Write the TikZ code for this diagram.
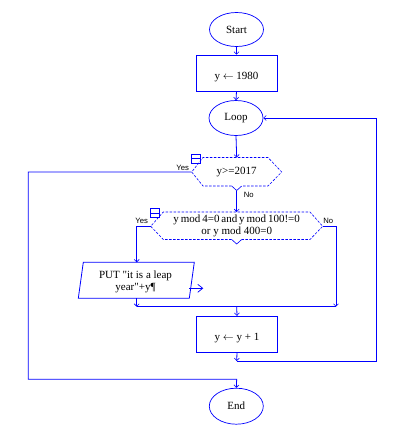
\documentclass[tikz,border=0pt]{standalone}
\usepackage{fontspec}
\setmainfont{Liberation Serif}
\newfontfamily\lblfont{Liberation Sans}
\newfontfamily\plainserif{Liberation Serif}
\usetikzlibrary{arrows.meta,shapes.geometric}
\definecolor{fcblue}{RGB}{0,0,255}
\tikzset{
  line/.style={draw=fcblue, line width=0.8pt},
  conn/.style={draw=fcblue, line width=0.8pt, -{Straight Barb[length=2.5pt,width=5pt,line width=0.6pt]}},
  term/.style={ellipse, draw=fcblue, line width=0.7pt, minimum width=54pt, minimum height=34pt, inner sep=0pt, font=\fontsize{11}{13}\selectfont},
  procbox/.style={rectangle, draw=fcblue, line width=0.8pt, minimum width=81pt, minimum height=36pt, inner sep=0pt},
  txt/.style={font=\fontsize{11}{12}\selectfont, inner sep=0pt, align=center},
  lbl/.style={font=\lblfont\fontsize{7.7}{9}\selectfont, inner sep=0pt},
  dec/.style={draw=fcblue, line width=0.6pt, dash pattern=on 2.5pt off 1.5pt},
  notch/.style={draw=fcblue, line width=0.6pt},
  icon/.style={rectangle, draw=fcblue, line width=0.7pt, minimum width=9pt, minimum height=9pt, inner sep=0pt},
  outarrow/.style={draw=fcblue, line width=0.7pt, -{Straight Barb[length=5pt,width=8pt,line width=0.7pt]}}
}
\begin{document}
\begin{tikzpicture}[x=1pt,y=-1pt]
\useasboundingbox[fill=white] (0,0) rectangle (411,429);

% terminals and boxes
\node[term] (start) at (236.5,29.5) {Start};
\node[procbox] (init) at (236.5,73) {};
\node[txt] (initt) at (236.5,77) {y $\leftarrow$ 1980};
\node[term, minimum height=35pt] (loop) at (236,118) {Loop};

% decision 1
\node[txt] (d1) at (236.7,172) {y>=2017};
\coordinate (d1w) at (191.7,172);
\coordinate (d1e) at (281.7,172);
\coordinate (d1n) at (236.7,157.5);
\coordinate (d1s) at (236.7,190.5);
\draw[dec] (231.7,186) -- (203,186) -- (d1w) -- (203,157.5) -- (268,157.5) -- (d1e) -- (268,186) -- (241.7,186);
\draw[notch] (231.7,186) -- (d1s) -- (241.7,186);
\node[icon] (ic1) at (196,158.8) {};
\draw[line, line width=0.7pt] (ic1.west) -- (ic1.east);

% decision 2
\node[txt, font=\fontsize{11}{11.7}\selectfont] (d2) at (236.7,226) {\spaceskip=1.9pt plus 0.5pt minus 0.3pt y mod 4=0 and y mod 100!=0\\or y mod 400=0};
\coordinate (d2w) at (150.7,226.3);
\coordinate (d2e) at (322.7,226.3);
\coordinate (d2n) at (236.7,212);
\coordinate (d2s) at (236.7,244);
\draw[dec] (231.7,239.5) -- (163.3,239.5) -- (d2w) -- (163.3,212) -- (310,212) -- (d2e) -- (310,239.5) -- (241.7,239.5);
\draw[notch] (231.7,239.5) -- (d2s) -- (241.7,239.5);
\node[icon] (ic2) at (155,213.3) {};
\draw[line, line width=0.7pt] (ic2.west) -- (ic2.east);

% output parallelogram
\coordinate (p1) at (83.3,262.3);
\coordinate (p2) at (194.3,262.3);
\coordinate (p3) at (189.3,298.3);
\coordinate (p4) at (78.3,298.3);
\coordinate (pn) at (136.7,262.3);
\coordinate (ps) at (136.7,298.3);
\draw[line] (p1) -- (p2) -- (p3) -- (p4) -- cycle;
\node[txt, font=\plainserif\fontsize{11}{12}\selectfont] (put) at (135.5,281.7) {PUT "it is a leap\\year"+y¶};
\coordinate (oa1) at (189.3,288.3);
\coordinate (oa2) at (203.3,288.3);
\draw[outarrow] (oa1) -- (oa2);

% increment and end
\node[procbox] (inc) at (237,334.2) {};
\node[txt] (inct) at (237,338) {y $\leftarrow$ y + 1};
\node[term, minimum height=36pt] (end) at (236.3,406.2) {End};

% junction coordinates
\coordinate (jl) at (136.7,306.7);
\coordinate (jr) at (336,306.7);
\coordinate (jm) at (236.7,306.7);
\coordinate (lb) at (236.7,361);
\coordinate (lr) at (376.7,361);
\coordinate (eb) at (236.7,379.3);

% connectors
\draw[conn] (start.south) -- (init.north);
\draw[conn] (init.south) -- (loop.north);
\draw[conn] (loop.south) -- (d1n);
\draw[conn] (d1w) -- (28.3,172) -- (28.3,379.3) -- (eb) -- (end.north);
\draw[conn] (d1s) -- (d2n);
\draw[conn] (d2w) -- (136.7,226.3) -- (pn);
\draw[conn] (d2e) -- (336,226.3) -- (jr);
\draw[conn] (ps) -- (jl);
\draw[line] (jl) -- (jr);
\draw[conn] (jm) -- (inc.north);
\draw[conn] (inc.south) -- (lb);
\draw[conn] (lb) -- (lr) -- (376.7,118) -- (loop.east);

% labels
\node[lbl] (y1) at (182.7,167.5) {Yes};
\node[lbl] (n1) at (248.7,194.5) {No};
\node[lbl] (y2) at (141.7,221) {Yes};
\node[lbl] (n2) at (328.3,221) {No};
\end{tikzpicture}
\end{document}
